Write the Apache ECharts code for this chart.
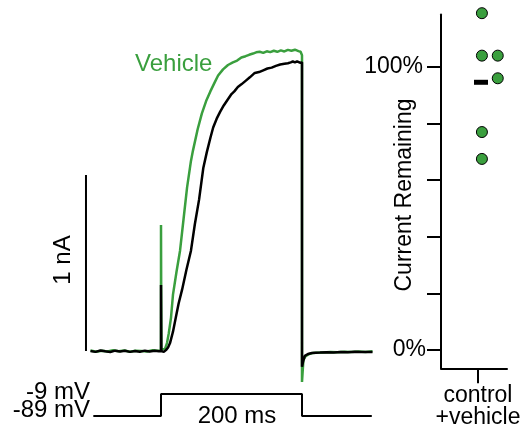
<!DOCTYPE html>
<html><head><meta charset="utf-8">
<script src="https://cdn.jsdelivr.net/npm/echarts@6/dist/echarts.min.js"></script>
<style>html,body{margin:0;padding:0;background:#fff}#c{width:525px;height:435px}</style>
</head><body><div id="c"></div>
<script>
// ---- Current traces (time in ms from step onset, current in nA) ----
const vehicleT = [-100,-92,-84,-76,-68,-60,-52,-44,-36,-28,-20,-12,-4,0,0,0.5,3,5.7,8.5,11,14.2,17,22,27,32,37,42.5,45.4,52,58,64,70,76,81,88,95,102,108,114,120,125,130.5,135,140,145,150,155,160,165,170,175,180,185,190,195,198,200,200,202,205,210,215,220,230,240,250,260,270,280,290,300];
const vehicleI = [0.003,-0.004,0.002,-0.003,0.004,-0.002,0.003,-0.004,0.002,0.0,-0.003,0.004,0.001,0.002,0.716,0.01,0.004,0.012,0.045,0.10,0.19,0.32,0.45,0.57,0.75,0.93,1.08,1.14,1.26,1.35,1.42,1.475,1.525,1.565,1.60,1.625,1.64,1.65,1.668,1.675,1.683,1.69,1.697,1.70,1.694,1.703,1.698,1.706,1.70,1.708,1.702,1.711,1.706,1.712,1.704,1.70,1.68,-0.176,-0.05,-0.03,-0.018,-0.012,-0.01,-0.008,-0.006,-0.007,-0.004,-0.006,-0.003,-0.005,-0.002];

const controlT = [-100,-93,-86,-79,-72,-65,-58,-51,-44,-37,-30,-23,-16,-9,-3,0,0,0.5,4,7,10,12.8,17,21,25,30,36,42.5,48,54,60,65,70,74,79,84,89,94,100,104,109,114,120,126,133,139,145,151,157,163,169,175,180,184,187,190,193,197,200,200,201.4,204,208.5,214,225.5,235,245,255,265,275,285,300];
const controlI = [0.0,-0.005,0.003,-0.002,-0.006,0.002,-0.003,0.001,-0.005,0.0,-0.004,0.002,-0.003,0.001,-0.002,0.0,0.375,0.0,-0.005,0.005,0.02,0.045,0.11,0.19,0.27,0.35,0.46,0.57,0.72,0.86,1.04,1.13,1.21,1.27,1.32,1.36,1.395,1.425,1.46,1.475,1.50,1.515,1.535,1.555,1.58,1.585,1.595,1.605,1.61,1.62,1.628,1.632,1.635,1.64,1.645,1.64,1.646,1.638,1.64,-0.09,-0.0625,-0.028,-0.017,-0.011,-0.009,-0.007,-0.008,-0.005,-0.007,-0.004,-0.006,-0.005];

// ---- Voltage protocol ----
const protocolT = [-96,0,0,200,200,299];
const protocolV = [-89,-89,-9,-9,-89,-89];
const protocolLabels = ['-9 mV','-89 mV'];
const stepLabel = '200 ms';

// ---- Scale bar ----
const scaleBarI = [0,1];
const scaleBarLabel = '1 nA';

// ---- Summary dot plot (% current remaining) ----
const remaining = [119,104,104,96,77,67.5];
const jitter = [0.62,0.62,0.86,0.86,0.62,0.62];
const groupLabel = 'control\n+vehicle';
const yTicks = [0,20,40,60,80,100];
const yTickLabels = {0:'0%',100:'100%'};

const GREEN = '#3a9f3e';
const FONT = '"Liberation Sans", Arial, sans-serif';
const mean = remaining.reduce((a,b)=>a+b,0)/remaining.length;

const zip = (a,b)=>a.map((v,i)=>[v,b[i]]);

const chart = echarts.init(document.getElementById('c'), null, {renderer:'canvas'});
const hidden = {show:false};
chart.setOption({
  animation:false,
  backgroundColor:'#fff',
  grid:[
    {left:83.45, top:34.2, width:289.05, height:352},
    {left:83.45, top:391.5, width:289.05, height:27.5},
    {left:441, top:14.6, width:66, height:353.75}
  ],
  xAxis:[
    {gridIndex:0, type:'value', min:-110, max:300, show:false},
    {gridIndex:1, type:'value', min:-110, max:300, show:false},
    {gridIndex:2, type:'value', min:0, max:1, splitLine:hidden,
      axisLine:{onZero:false, lineStyle:{color:'#000', width:2}},
      axisTick:{customValues:[0.56], length:15, lineStyle:{color:'#000', width:2}},
      axisLabel:{customValues:[0.56], formatter:()=>groupLabel, margin:16, lineHeight:22,
        color:'#000', fontSize:23, fontFamily:FONT}}
  ],
  yAxis:[
    {gridIndex:0, type:'value', min:-0.2, max:1.8, show:false},
    {gridIndex:1, type:'value', min:-100, max:0, show:false},
    {gridIndex:2, type:'value', min:-6.5, max:118.5, splitLine:hidden,
      axisLine:{show:true, onZero:false, lineStyle:{color:'#000', width:2}},
      axisTick:{customValues:yTicks, length:14, lineStyle:{color:'#000', width:2}},
      axisLabel:{customValues:[0,100], margin:15, color:'#000', fontSize:23, fontFamily:FONT,
        formatter:v=> v===100 ? '{b|'+yTickLabels[v]+'}' : '{a|'+yTickLabels[v]+'}',
        rich:{a:{fontSize:23, fontFamily:FONT, color:'#000'}, b:{fontSize:23, fontFamily:FONT, color:'#000', padding:[0,3,0,0]}}}}
  ],
  series:[
    {type:'line', xAxisIndex:0, yAxisIndex:0, data:zip(vehicleT, vehicleI), showSymbol:false,
      lineStyle:{color:GREEN, width:2.5}, z:2},
    {type:'line', xAxisIndex:0, yAxisIndex:0, data:zip(controlT, controlI), showSymbol:false,
      lineStyle:{color:'#000', width:2.5}, z:3},
    {type:'line', xAxisIndex:0, yAxisIndex:0, data:scaleBarI.map(v=>[-106.4, v]), showSymbol:false,
      lineStyle:{color:'#000', width:2}},
    {type:'line', xAxisIndex:1, yAxisIndex:1, data:zip(protocolT, protocolV), showSymbol:false,
      lineStyle:{color:'#000', width:2}},
    {type:'scatter', xAxisIndex:2, yAxisIndex:2, data:zip(jitter, remaining), symbolSize:11, clip:false,
      itemStyle:{color:GREEN, borderColor:'#000', borderWidth:1, opacity:1}, z:3},
    {type:'scatter', xAxisIndex:2, yAxisIndex:2, data:[[0.606, mean]], symbol:'rect', symbolSize:[14,5], clip:false,
      itemStyle:{color:'#000', opacity:1}, z:3}
  ],
  graphic:[
    {type:'text', left:135, top:52, style:{text:'Vehicle', fill:GREEN, font:'24px '+FONT}},
    {type:'text', x:63, y:260, rotation:Math.PI/2, style:{text:scaleBarLabel, fill:'#000', font:'24px '+FONT, align:'center', verticalAlign:'middle'}},
    {type:'text', x:90, y:392, style:{text:protocolLabels[0], fill:'#000', font:'24px '+FONT, align:'right', verticalAlign:'middle'}},
    {type:'text', x:90, y:410, style:{text:protocolLabels[1], fill:'#000', font:'24px '+FONT, align:'right', verticalAlign:'middle'}},
    {type:'text', x:237, y:416, style:{text:stepLabel, fill:'#000', font:'24px '+FONT, align:'center', verticalAlign:'middle'}},
    {type:'text', x:405, y:195, rotation:Math.PI/2, style:{text:'Current Remaining', fill:'#000', font:'23px '+FONT, align:'center', verticalAlign:'middle'}}
  ]
});
</script></body></html>
